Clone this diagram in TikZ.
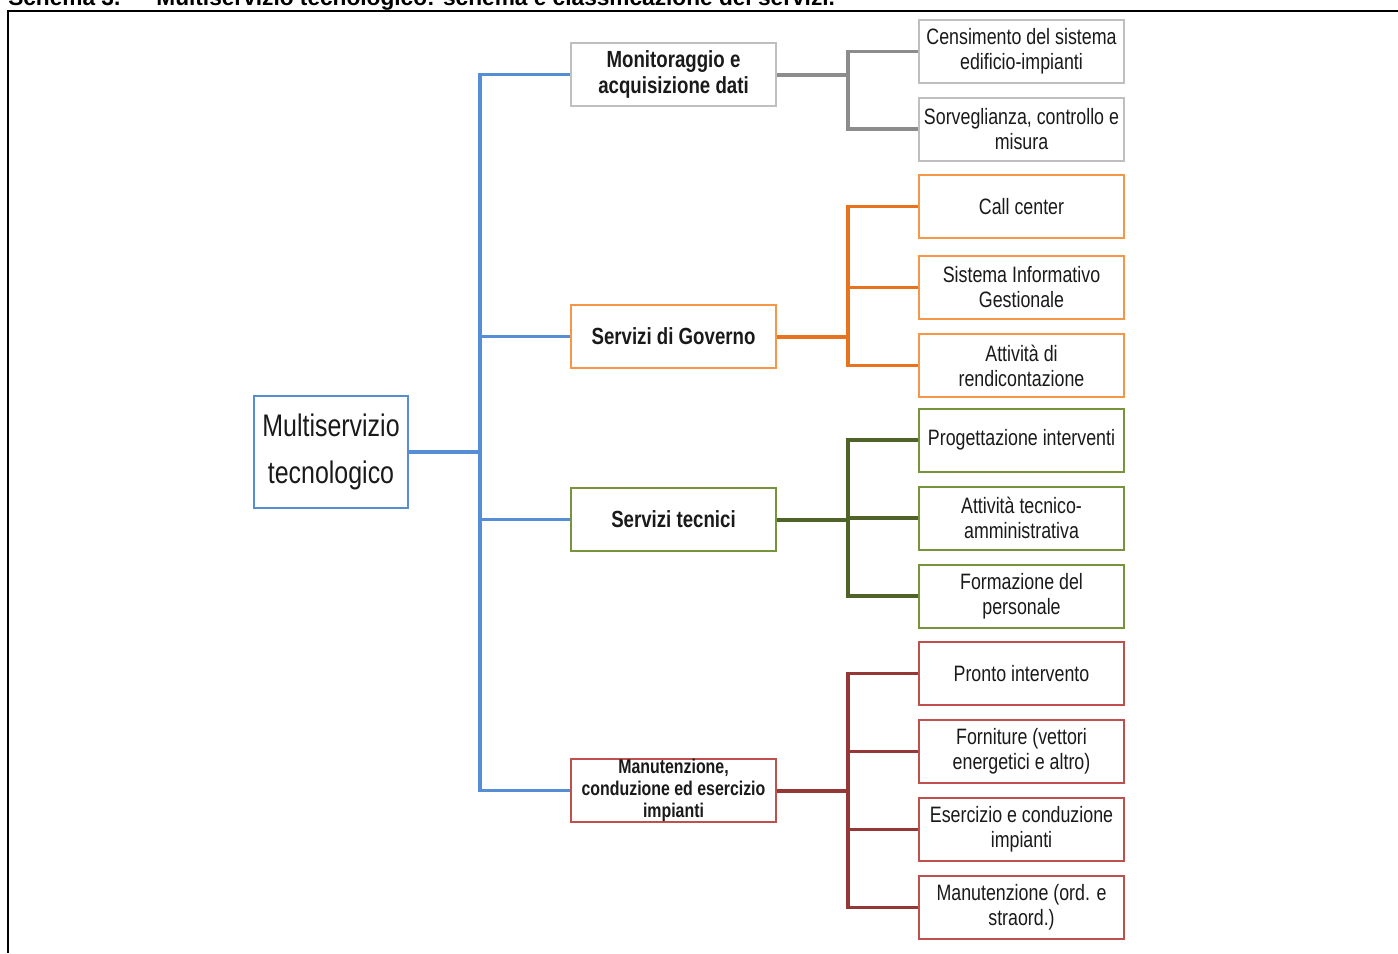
\documentclass[tikz,border=0pt]{standalone}
\usepackage{fontspec}
\setmainfont[FakeStretch=0.8]{Liberation Sans}
\newfontfamily\titlefont{Liberation Sans}
\definecolor{cblue}{HTML}{558ED5}
\definecolor{corL}{HTML}{E8731E}
\definecolor{corB}{HTML}{F79646}
\definecolor{cgrL}{HTML}{4F6228}
\definecolor{cgrB}{HTML}{77933C}
\definecolor{crdL}{HTML}{953735}
\definecolor{crdB}{HTML}{C0504D}
\definecolor{cgyL}{HTML}{8C8C8C}
\definecolor{cgyB}{HTML}{BFBFBF}
\definecolor{txt}{HTML}{1A1A1A}
\tikzset{
  box/.style={draw, line width=1.5pt, fill=white, text=txt, align=center, inner sep=0pt},
  leaf/.style={box, minimum width=153.75pt, minimum height=47.25pt, font=\fontsize{16.7}{18.75}\selectfont},
  mid/.style={box, minimum width=153.75pt, minimum height=47.25pt, font=\bfseries\fontsize{17.5}{19}\selectfont},
  conn/.style={line width=2.3pt},
  thick conn/.style={line width=3pt}
}
\begin{document}
\begin{tikzpicture}[x=0.75pt, y=-0.75pt]
\useasboundingbox (0,0) rectangle (1398,953);
\begin{scope}
\clip (0,0) rectangle (1398,953);
\node[anchor=base west, inner sep=0pt, text=black, font=\titlefont\bfseries\fontsize{17}{20}\selectfont] (title) at (8,5) {Schema 3.\hskip 27pt Multiservizio tecnologico: schema e classificazione dei servizi.};
\end{scope}
\draw[line width=2pt, black] (1398,11) -- (8,11) -- (8,953);

% root
\node[box, draw=cblue, minimum width=115.5pt, minimum height=84pt, font=\fontsize{23.4}{35}\selectfont] (root) at (331,452) {Multiservizio\\tecnologico};

% level 2
\node[mid, draw=cgyB] (mon) at (673.5,74.5) {Monitoraggio e\\acquisizione dati};
\node[mid, draw=corB] (gov) at (673.5,336.5) {Servizi di Governo};
\node[mid, draw=cgrB] (tec) at (673.5,519.5) {Servizi tecnici};
\node[mid, draw=crdB, font=\bfseries\fontsize{14.9}{16.5}\selectfont] (man) at (673.5,790.5) {Manutenzione,\\conduzione ed esercizio\\impianti};

% leaves
\node[leaf, draw=cgyB] (l1) at (1021.5,51.5) {Censimento del sistema\\edificio-impianti};
\node[leaf, draw=cgyB] (l2) at (1021.5,129) {Sorveglianza, controllo e\\misura};
\node[leaf, draw=corB] (l3) at (1021.5,206.5) {Call center};
\node[leaf, draw=corB] (l4) at (1021.5,287.5) {Sistema Informativo\\Gestionale};
\node[leaf, draw=corB] (l5) at (1021.5,365.5) {Attività di\\rendicontazione};
\node[leaf, draw=cgrB] (l6) at (1021.5,440) {Progettazione interventi};
\node[leaf, draw=cgrB] (l7) at (1021.5,518) {Attività tecnico-\\amministrativa};
\node[leaf, draw=cgrB] (l8) at (1021.5,596) {Formazione del\\personale};
\node[leaf, draw=crdB] (l9) at (1021.5,673.5) {Pronto intervento};
\node[leaf, draw=crdB] (l10) at (1021.5,751.5) {Forniture (vettori\\energetici e altro)};
\node[leaf, draw=crdB] (l11) at (1021.5,829.5) {Esercizio e conduzione\\impianti};
\node[leaf, draw=crdB] (l12) at (1021.5,907.5) {Manutenzione (ord. e\\straord.)};

% junction coordinates
\coordinate (tr) at (480,452);
\coordinate (bA) at (848,74.5);
\coordinate (bB) at (848,336.5);
\coordinate (bC) at (848,519.5);
\coordinate (bD) at (848,790.5);

% blue trunk
\draw[cblue, thick conn] (root.east) -- (tr);
\draw[cblue, conn] (tr) |- (mon.west);
\draw[cblue, conn] (tr) |- (gov.west);
\draw[cblue, conn] (tr) |- (tec.west);
\draw[cblue, conn] (tr) |- (man.west);

% gray
\draw[cgyL, thick conn] (mon.east) -- (bA);
\draw[cgyL, conn] (bA) |- (l1.west);
\draw[cgyL, conn] (bA) |- (l2.west);
% orange
\draw[corL, thick conn] (gov.east) -- (bB);
\draw[corL, conn] (bB) |- (l3.west);
\draw[corL, conn] (bB) |- (l4.west);
\draw[corL, conn] (bB) |- (l5.west);
% green
\draw[cgrL, thick conn] (tec.east) -- (bC);
\draw[cgrL, conn] (bC) |- (l6.west);
\draw[cgrL, conn] (bC) |- (l7.west);
\draw[cgrL, conn] (bC) |- (l8.west);
% red
\draw[crdL, thick conn] (man.east) -- (bD);
\draw[crdL, conn] (bD) |- (l9.west);
\draw[crdL, conn] (bD) |- (l10.west);
\draw[crdL, conn] (bD) |- (l11.west);
\draw[crdL, conn] (bD) |- (l12.west);
\end{tikzpicture}
\end{document}
